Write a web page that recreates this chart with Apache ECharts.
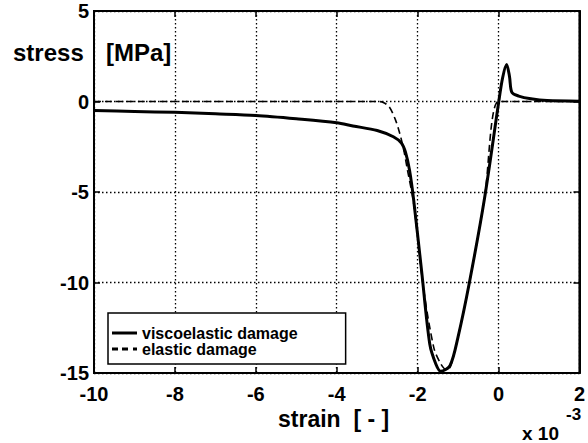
<!DOCTYPE html>
<html>
<head>
<meta charset="utf-8">
<script src="https://cdn.jsdelivr.net/npm/echarts@6/dist/echarts.min.js"></script>
<style>
  html, body { margin: 0; padding: 0; background: #fff; }
  #chart { width: 588px; height: 443px; }
</style>
</head>
<body>
<div id="chart"></div>
<script>
// strain in units of 1e-3, stress in MPa
const viscoStrain = [-10, -9, -8, -7, -6, -5, -4, -3.6, -3.0, -2.6, -2.4, -2.3, -2.2, -2.1, -1.9, -1.7, -1.55, -1.43, -1.2, -1.0, -0.72, -0.35, 0, 0.1, 0.2, 0.27, 0.33, 0.5, 0.8, 1.2, 2];
const viscoStress = [-0.5, -0.55, -0.6, -0.68, -0.77, -0.95, -1.17, -1.35, -1.6, -1.95, -2.3, -2.8, -3.8, -5.4, -9.4, -13.4, -14.5, -14.9, -14.6, -13.0, -10.0, -5.4, -0.1, 1.3, 2.05, 1.4, 0.5, 0.3, 0.15, 0.05, 0.02];

const elasticStrain = [-10, -4, -3.0, -2.85, -2.7, -2.55, -2.45, -2.35, -2.25, -2.1, -1.85, -1.6, -1.45, -1.3, -1.2, -1.0, -0.72, -0.35, 0, 0.5, 2];
const elasticStress = [0, 0, 0, -0.05, -0.3, -1.0, -1.7, -2.6, -3.8, -5.6, -10.4, -13.6, -14.4, -14.8, -14.7, -13.0, -10.0, -5.4, 0, 0, 0];

const xTicks = [-10, -8, -6, -4, -2, 0, 2];
const yTicks = [-15, -10, -5, 0, 5];

const zip = (xs, ys) => xs.map((x, i) => [x, ys[i]]);

const FONT = "Liberation Sans";
const chart = echarts.init(document.getElementById("chart"), null, { renderer: "svg" });

const dotted = { color: "#000", width: 1.3, type: [1.5, 2.5] };
const frameAxis = {
  axisLine: { onZero: false, lineStyle: { color: "#000", width: 2 } },
  axisTick: { inside: true, length: 6, lineStyle: { color: "#000", width: 1.5 } },
};
const tickFont = { fontFamily: FONT, fontSize: 20, fontWeight: "bold", color: "#000" };

chart.setOption({
  animation: false,
  grid: {
    left: 94,
    top: 11,
    width: 491,
    height: 362,
    show: true,
    borderColor: "#000",
    borderWidth: 2,
  },
  legend: {
    orient: "vertical",
    left: 108,
    top: 313,
    padding: [12, 48, 7, 4],
    itemGap: 0,
    itemWidth: 25,
    itemHeight: 3,
    backgroundColor: "#fff",
    borderColor: "#000",
    borderWidth: 1.5,
    textStyle: { fontFamily: FONT, fontSize: 16, fontWeight: "bold", color: "#000", lineHeight: 16 },
    data: [
      { name: "viscoelastic damage", icon: "path://M0,0h25v3h-25z" },
      { name: "elastic damage", icon: "path://M0,0h6v3h-6zM10,0h6v3h-6zM21,0h4v3h-4z" },
    ],
  },
  xAxis: [
    {
      type: "value",
      min: -10,
      max: 2,
      interval: 2,
      ...frameAxis,
      axisLabel: {
        margin: 11,
        ...tickFont,
        formatter: (v) => (xTicks.includes(v) ? String(v) : ""),
      },
      splitLine: { show: true, lineStyle: dotted },
    },
    {
      type: "value",
      position: "top",
      min: -10,
      max: 2,
      interval: 2,
      ...frameAxis,
      axisLabel: { show: false },
      splitLine: { show: false },
    },
  ],
  yAxis: [
    {
      type: "value",
      min: -15,
      max: 5,
      interval: 5,
      ...frameAxis,
      axisLabel: {
        margin: 5,
        ...tickFont,
        formatter: (v) => (yTicks.includes(v) ? String(v) : ""),
      },
      splitLine: { show: true, lineStyle: dotted },
    },
    {
      type: "value",
      position: "right",
      min: -15,
      max: 5,
      interval: 5,
      ...frameAxis,
      axisLabel: { show: false },
      splitLine: { show: false },
    },
  ],
  series: [
    {
      name: "elastic damage",
      type: "line",
      data: zip(elasticStrain, elasticStress),
      smooth: 0.3,
      symbol: "none",
      lineStyle: { color: "#000", width: 1.6, type: [7, 4] },
      itemStyle: { color: "#000" },
      z: 3,
    },
    {
      name: "viscoelastic damage",
      type: "line",
      data: zip(viscoStrain, viscoStress),
      smooth: 0.3,
      symbol: "none",
      lineStyle: { color: "#000", width: 3 },
      itemStyle: { color: "#000" },
      z: 4,
    },
  ],
  graphic: [
    {
      type: "text",
      left: 13,
      top: 40,
      z: 10,
      style: { text: "stress", fontFamily: FONT, fontSize: 24, fontWeight: "bold", fill: "#000" },
    },
    {
      type: "text",
      left: 106,
      top: 40,
      z: 10,
      style: { text: "[MPa]", fontFamily: FONT, fontSize: 24, fontWeight: "bold", fill: "#000" },
    },
    {
      type: "text",
      left: 278,
      top: 407,
      style: { text: "strain  [ - ]", fontFamily: FONT, fontSize: 23, fontWeight: "bold", fill: "#000" },
    },
    {
      type: "text",
      left: 522,
      top: 424,
      style: { text: "x 10", fontFamily: FONT, fontSize: 19, fontWeight: "bold", fill: "#000" },
    },
    {
      type: "text",
      left: 566,
      top: 406,
      style: { text: "-3", fontFamily: FONT, fontSize: 17, fontWeight: "bold", fill: "#000" },
    },
  ],
});
</script>
</body>
</html>
